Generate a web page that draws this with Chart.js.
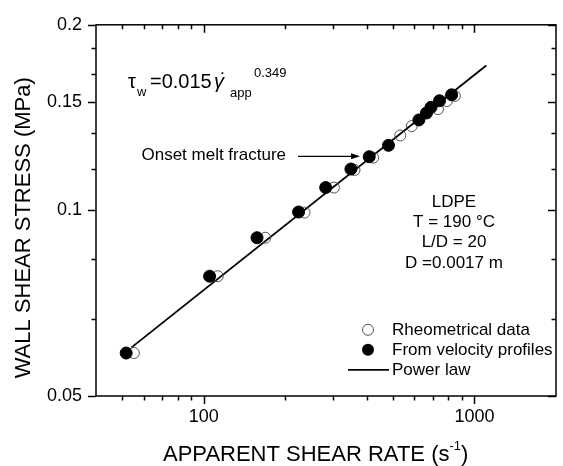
<!DOCTYPE html>
<html>
<head>
<meta charset="utf-8">
<script src="https://cdn.jsdelivr.net/npm/chart.js@4.4.1/dist/chart.umd.min.js"></script>
<style>
  html, body { margin: 0; padding: 0; background: #fff; }
  #wrap { width: 563px; height: 466px; position: relative; }
</style>
</head>
<body>
<div id="wrap"><canvas id="flowChart"></canvas></div>
<script>
const FONT = "'Liberation Sans', Arial, sans-serif";

// Rheometrical data (s-1, MPa)
const rheoRate   = [55.2, 112.7, 168.7, 235.6, 302.6, 360.5, 422.4, 531.8, 586.4, 732.8, 789.7, 846.2];
const rheoStress = [0.0587, 0.0782, 0.0903, 0.0992, 0.1089, 0.1163, 0.1218, 0.1323, 0.1370, 0.1460, 0.1504, 0.1534];

// From velocity profiles
const veloRate   = [51.7, 105.1, 157.3, 224.0, 282.1, 349.6, 408.5, 481.2, 623.2, 664.5, 691.1, 742.6, 823.3];
const veloStress = [0.0587, 0.0782, 0.0903, 0.0994, 0.1089, 0.1167, 0.1222, 0.1275, 0.1402, 0.1439, 0.1470, 0.1506, 0.1540];

// Power law line, ends
const lawRate   = [54, 1105];
const lawStress = [0.0599, 0.1718];

// ticks
const xTicks  = [50, 60, 70, 80, 90, 100, 200, 300, 400, 500, 600, 700, 800, 900, 1000];
const xLabels = [100, 1000];
const yTicks  = [0.05, 0.0667, 0.0833, 0.1, 0.1167, 0.1333, 0.15, 0.1667, 0.1833, 0.2];
const yLabels = [0.05, 0.1, 0.15, 0.2];

function toPoints(xs, ys) {
    return xs.map((v, i) => ({ x: v, y: ys[i] }));
}

function strokeLine(ctx, x1, y1, x2, y2) {
    ctx.beginPath();
    ctx.moveTo(x1, y1);
    ctx.lineTo(x2, y2);
    ctx.stroke();
}

// frame + tick marks (outside on left/bottom, inside on top/right)
const frameTicks = {
    id: 'frameTicks',
    afterDatasetsDraw(chart) {
        const { ctx, chartArea: a, scales: { x, y } } = chart;
        ctx.save();
        ctx.strokeStyle = '#000';
        ctx.lineWidth = 1.5;
        ctx.strokeRect(a.left, a.top, a.right - a.left, a.bottom - a.top);

        xTicks.forEach(v => {
            const px = Math.round(x.getPixelForValue(v)) + 0.5;
            const len = xLabels.includes(v) ? 8 : 4.5;
            strokeLine(ctx, px, a.bottom, px, a.bottom + len);
            strokeLine(ctx, px, a.top, px, a.top + len);
        });
        yTicks.forEach(v => {
            const py = Math.round(y.getPixelForValue(v)) + 0.5;
            const len = yLabels.includes(v) ? 8 : 4.5;
            strokeLine(ctx, a.left - len, py, a.left, py);
            strokeLine(ctx, a.right - len, py, a.right, py);
        });
        ctx.restore();
    }
};

// texts, arrow, legend, axis titles
const notes = {
    id: 'notes',
    afterDraw(chart) {
        const { ctx, chartArea: a } = chart;
        ctx.save();
        ctx.fillStyle = '#000';
        ctx.strokeStyle = '#000';
        ctx.textBaseline = 'alphabetic';
        ctx.textAlign = 'left';

        // formula
        const fx = a.left + 32;
        const base = a.top + 63;
        ctx.font = '20px ' + FONT;
        ctx.fillText('τ', fx, base);
        ctx.fillText('=0.015', fx + 22, base);
        ctx.font = '13px ' + FONT;
        ctx.fillText('w', fx + 9, base + 8);
        ctx.font = 'italic 20px ' + FONT;
        ctx.fillText('γ', fx + 86, base);
        ctx.fillText('˙', fx + 90, base - 1);
        ctx.font = '13px ' + FONT;
        ctx.fillText('app', fx + 102, base + 9);
        ctx.fillText('0.349', fx + 126, base - 11);

        // onset of melt fracture
        ctx.font = '17px ' + FONT;
        ctx.textAlign = 'right';
        ctx.fillText('Onset melt fracture', a.left + 190, a.top + 135);
        const ay = a.top + 131.5;
        const ax1 = a.left + 202, ax2 = a.left + 264;
        ctx.lineWidth = 1.2;
        strokeLine(ctx, ax1, ay, ax2 - 6, ay);
        ctx.beginPath();
        ctx.moveTo(ax2, ay);
        ctx.lineTo(ax2 - 9, ay - 3);
        ctx.lineTo(ax2 - 9, ay + 3);
        ctx.closePath();
        ctx.fill();

        // material block
        ctx.textAlign = 'center';
        const cx = a.left + 358;
        ['LDPE', 'T = 190 °C', 'L/D = 20', 'D =0.0017 m'].forEach((t, i) => {
            ctx.fillText(t, cx, a.top + 182 + i * 20.3);
        });

        // legend
        ctx.textAlign = 'left';
        const mx = a.left + 272;
        const rows = [a.top + 305, a.top + 325, a.top + 345];
        ctx.lineWidth = 1;
        ctx.strokeStyle = '#555';
        ctx.beginPath();
        ctx.arc(mx, rows[0], 5.5, 0, Math.PI * 2);
        ctx.stroke();
        ctx.beginPath();
        ctx.arc(mx, rows[1], 6, 0, Math.PI * 2);
        ctx.fill();
        ctx.strokeStyle = '#000';
        ctx.lineWidth = 1.8;
        strokeLine(ctx, a.left + 252, rows[2], a.left + 293, rows[2]);
        ctx.fillText('Rheometrical data', a.left + 296, rows[0] + 5.5);
        ctx.fillText('From velocity profiles', a.left + 296, rows[1] + 5.5);
        ctx.fillText('Power law', a.left + 296, rows[2] + 5.5);

        // x axis title with superscript
        ctx.font = '22px ' + FONT;
        const t1 = 'APPARENT SHEAR RATE (s';
        let tx = a.left + 67;
        const ty = a.bottom + 65;
        ctx.fillText(t1, tx, ty);
        tx += ctx.measureText(t1).width;
        ctx.font = '13px ' + FONT;
        ctx.fillText('-1', tx, ty - 11);
        tx += ctx.measureText('-1').width;
        ctx.font = '22px ' + FONT;
        ctx.fillText(')', tx, ty);

        // y axis title
        ctx.translate(30, a.top + 203);
        ctx.rotate(-Math.PI / 2);
        ctx.textAlign = 'center';
        ctx.fillText('WALL SHEAR STRESS (MPa)', 0, 0);
        ctx.restore();
    }
};

Chart.defaults.font.family = FONT;
Chart.defaults.color = '#000';

new Chart(document.getElementById('flowChart'), {
    type: 'scatter',
    data: {
        datasets: [
            {
                label: 'From velocity profiles',
                data: toPoints(veloRate, veloStress),
                pointRadius: 6,
                pointBackgroundColor: '#000',
                pointBorderColor: '#000',
                pointBorderWidth: 1,
                order: 0
            },
            {
                label: 'Rheometrical data',
                data: toPoints(rheoRate, rheoStress),
                pointRadius: 5.5,
                pointBackgroundColor: 'rgba(255,255,255,0)',
                pointBorderColor: '#555',
                pointBorderWidth: 1,
                order: 1
            },
            {
                label: 'Power law',
                type: 'line',
                data: toPoints(lawRate, lawStress),
                borderColor: '#000',
                borderWidth: 1.8,
                pointRadius: 0,
                fill: false,
                tension: 0,
                order: 2
            }
        ]
    },
    options: {
        responsive: true,
        maintainAspectRatio: false,
        animation: false,
        layout: { padding: { left: 0, right: 3, top: 22, bottom: 0 } },
        plugins: {
            legend: { display: false },
            tooltip: { enabled: false }
        },
        scales: {
            x: {
                type: 'logarithmic',
                min: 40,
                max: 2000,
                afterBuildTicks: s => { s.ticks = xTicks.map(v => ({ value: v })); },
                afterFit: s => { s.height = 70; },
                grid: { display: false, drawTicks: false },
                border: { display: false },
                ticks: {
                    padding: 10,
                    autoSkip: false,
                    maxRotation: 0,
                    font: { size: 18 },
                    callback: v => xLabels.includes(v) ? String(v) : ''
                }
            },
            y: {
                type: 'logarithmic',
                min: 0.05,
                max: 0.2,
                afterBuildTicks: s => { s.ticks = yTicks.map(v => ({ value: v })); },
                afterFit: s => { s.width = 96; },
                grid: { display: false, drawTicks: false },
                border: { display: false },
                ticks: {
                    padding: 14,
                    autoSkip: false,
                    font: { size: 18 },
                    callback: v => yLabels.includes(v) ? String(v) : ''
                }
            }
        }
    },
    plugins: [frameTicks, notes]
});
</script>
</body>
</html>
